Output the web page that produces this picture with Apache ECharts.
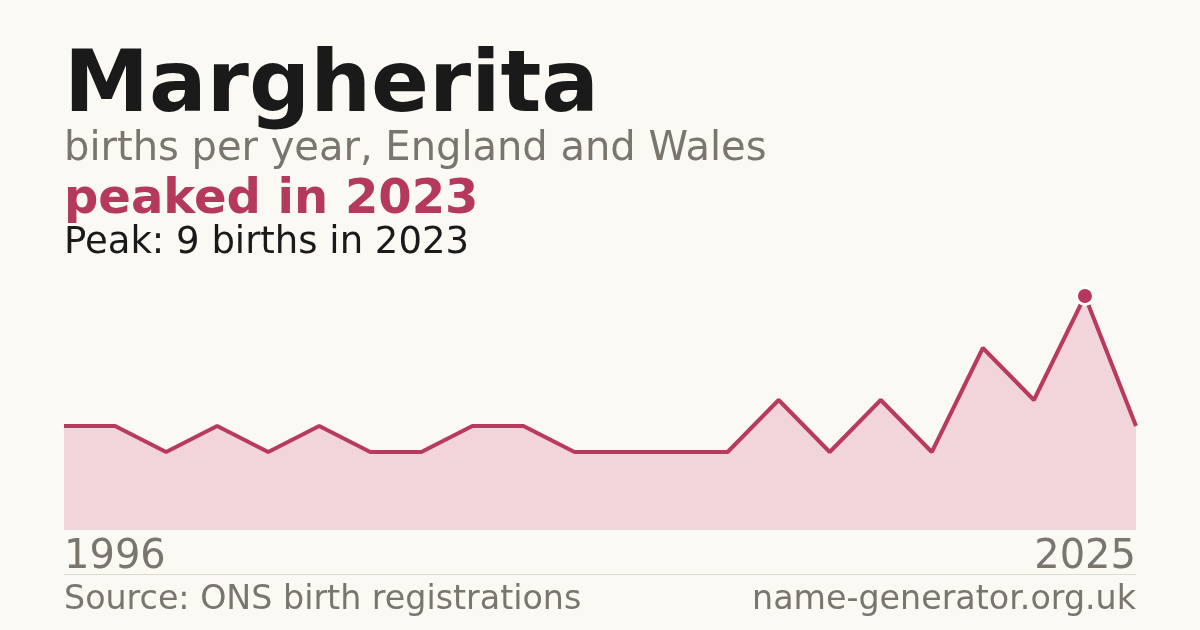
<!DOCTYPE html>
<html><head><meta charset="utf-8">
<script src="https://cdn.jsdelivr.net/npm/echarts@6/dist/echarts.min.js"></script>
<style>html,body{margin:0;padding:0;background:#faf9f4}#c{width:1200px;height:630px}</style>
</head><body><div id="c"></div>
<script>
const years = [1996,1998,2000,2002,2003,2005,2006,2008,2009,2011,2012,2013,2014,2015,2016,2017,2018,2019,2020,2022,2023,2025];
const births = [4,4,3,4,3,4,3,3,4,4,3,3,3,3,5,3,5,3,7,5,9,4];
const titleText = 'Margherita';
const subtitleText = 'births per year, England and Wales';
const headlineText = 'peaked in 2023';
const peakText = 'Peak: 9 births in 2023';
const sourceText = 'Source: ONS birth registrations';
const siteText = 'name-generator.org.uk';

const peakVal = Math.max(...births);
const peakIdx = births.indexOf(peakVal);
const peakData = births.map((v,i)=> i===peakIdx ? v : null);

const chart = echarts.init(document.getElementById('c'), null, {renderer:'canvas'});
chart.setOption({
  backgroundColor:'#faf9f4',
  animation:false,
  grid:{left:64,right:64,top:296,bottom:100},
  xAxis:{type:'category',data:years.map(String),boundaryGap:false,
    axisLine:{show:false},axisTick:{show:false},axisLabel:{show:false},splitLine:{show:false}},
  yAxis:{type:'value',min:0,max:peakVal,show:false,splitLine:{show:false}},
  series:[
    {type:'line',data:births,symbol:'none',lineStyle:{color:'#b83a5c',width:4},
     areaStyle:{color:'#f2d5da',opacity:1},z:2},
    {type:'line',data:peakData,symbol:'circle',symbolSize:17,showSymbol:true,
     lineStyle:{width:0},itemStyle:{color:'#b5395a',borderColor:'#ffffff',borderWidth:3},z:3}
  ],
  graphic:[
    {type:'text',left:64,top:46,style:{text:titleText,font:'bold 85.5px "DejaVu Sans"',fill:'#1a1a1a'}},
    {type:'text',left:64,top:130,style:{text:subtitleText,font:'40px "DejaVu Sans"',fill:'#7a756d'}},
    {type:'text',left:64,top:177,style:{text:headlineText,font:'bold 48px "DejaVu Sans"',fill:'#b5395a'}},
    {type:'text',left:64,top:225,style:{text:peakText,font:'37px "DejaVu Sans"',fill:'#1a1a1a'}},
    {type:'text',left:64,top:538,style:{text:String(years[0]),font:'40px "DejaVu Sans"',fill:'#7a756d'}},
    {type:'text',right:64,top:538,style:{text:String(years[years.length-1]),font:'40px "DejaVu Sans"',fill:'#7a756d'}},
    {type:'rect',shape:{x:64,y:574,width:1072,height:1},style:{fill:'#dcd9d2'}},
    {type:'text',left:64,top:584,style:{text:sourceText,font:'33.3px "DejaVu Sans"',fill:'#7a756d'}},
    {type:'text',right:64,top:584,style:{text:siteText,font:'33.3px "DejaVu Sans"',fill:'#7a756d'}}
  ]
});
</script></body></html>
